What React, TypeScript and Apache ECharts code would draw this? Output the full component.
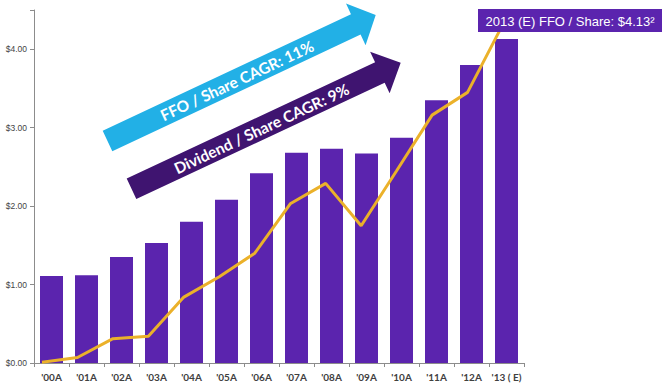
import React, { useEffect, useRef } from "react";
import * as echarts from "echarts";

const categories = ["'00A", "'01A", "'02A", "'03A", "'04A", "'05A", "'06A", "'07A", "'08A", "'09A", "'10A", "'11A", "'12A", "'13 ( E)"];
const ffoPerShare = [1.11, 1.12, 1.35, 1.53, 1.8, 2.08, 2.42, 2.68, 2.73, 2.67, 2.87, 3.35, 3.8, 4.13];
const dividendLine = [0.01, 0.07, 0.31, 0.34, 0.84, 1.1, 1.4, 2.03, 2.29, 1.75, 2.45, 3.16, 3.45, 4.32];
const yTicks = [0, 1, 2, 3, 4];
const ffoArrowText = "FFO / Share CAGR: 11%";
const divArrowText = "Dividend / Share CAGR: 9%";
const calloutText = "2013 (E) FFO / Share: $4.13²";

const BAR = "#5B24AE";
const LINE = "#EBB12A";
const BLUE = "#22B0E6";
const DARK = "#3F1470";

function arrowPoints(sx: number, sy: number, tx: number, ty: number, hw: number, hh: number, hl: number) {
  const dx = tx - sx, dy = ty - sy;
  const len = Math.hypot(dx, dy);
  const ux = dx / len, uy = dy / len;
  const nx = -uy, ny = ux;
  const bx = tx - ux * hl, by = ty - uy * hl;
  return [
    [sx + nx * hw, sy + ny * hw],
    [bx + nx * hw, by + ny * hw],
    [bx + nx * hh, by + ny * hh],
    [tx, ty],
    [bx - nx * hh, by - ny * hh],
    [bx - nx * hw, by - ny * hw],
    [sx - nx * hw, sy - ny * hw],
  ];
}

export default function App() {
  const ref = useRef<HTMLDivElement>(null);
  useEffect(() => {
    if (!ref.current) return;
    const chart = echarts.init(ref.current, undefined, { renderer: "svg" });
    const blue = { sx: 107.5, sy: 141, tx: 375.7, ty: 15 };
    const dark = { sx: 131.5, sy: 188.8, tx: 400.7, ty: 62.7 };
    const ang = (a: any) => Math.atan2(a.sy - a.ty, a.tx - a.sx);
    const textFont = "bold 15.5px Lato, 'Open Sans', sans-serif";
    chart.setOption({
      animation: false,
      grid: [
        { left: 34, right: 146, top: 10, bottom: 24 },
        { left: 42, right: 167, top: 10, bottom: 24 },
      ],
      xAxis: [
        {
          type: "category",
          gridIndex: 0,
          data: categories,
          boundaryGap: true,
          axisLine: { lineStyle: { color: "#8c8c8c", width: 1 } },
          axisTick: { show: true, length: 4, lineStyle: { color: "#8c8c8c" } },
          axisLabel: {
            interval: 0,
            margin: 9,
            fontSize: 10,
            fontWeight: "bold",
            fontFamily: "Lato, sans-serif",
            color: "#404040",
          },
        },
        {
          type: "category",
          gridIndex: 1,
          data: categories,
          boundaryGap: false,
          show: false,
        },
      ],
      yAxis: [
        {
          type: "value",
          gridIndex: 0,
          min: 0,
          max: 4.5,
          interval: 1,
          splitLine: { show: false },
          axisLine: { show: true, lineStyle: { color: "#8c8c8c", width: 1 } },
          axisTick: { show: true, length: 4, lineStyle: { color: "#8c8c8c" } },
          axisLabel: {
            margin: 7,
            fontSize: 8.5,
            fontFamily: "'Liberation Sans', Arial, sans-serif",
            color: "#444",
            formatter: (v: number) => (yTicks.includes(v) ? "$" + v.toFixed(2) : ""),
          },
        },
        {
          type: "value",
          gridIndex: 1,
          min: 0,
          max: 4.5,
          show: false,
          splitLine: { show: false },
        },
      ],
      series: [
        {
          type: "bar",
          xAxisIndex: 0,
          yAxisIndex: 0,
          data: ffoPerShare,
          barWidth: 23,
          itemStyle: { color: BAR },
        },
        {
          type: "line",
          xAxisIndex: 1,
          yAxisIndex: 1,
          data: dividendLine,
          showSymbol: false,
          symbol: "none",
          lineStyle: { color: LINE, width: 3 },
          z: 3,
        },
      ],
      graphic: [
        {
          type: "polygon",
          z: 100,
          shape: { points: arrowPoints(blue.sx, blue.sy, blue.tx, blue.ty, 11.3, 23, 22) },
          style: { fill: BLUE },
        },
        {
          type: "polygon",
          z: 100,
          shape: { points: arrowPoints(dark.sx, dark.sy, dark.tx, dark.ty, 11.3, 23, 23) },
          style: { fill: DARK },
        },
        {
          type: "text",
          z: 101,
          x: 237,
          y: 80.5,
          rotation: ang(blue),
          style: {
            text: ffoArrowText,
            fill: "#fff",
            font: textFont,
            textAlign: "center",
            textVerticalAlign: "middle",
          },
        },
        {
          type: "text",
          z: 101,
          x: 261.5,
          y: 128.5,
          rotation: ang(dark),
          style: {
            text: divArrowText,
            fill: "#fff",
            font: textFont,
            textAlign: "center",
            textVerticalAlign: "middle",
          },
        },
        {
          type: "rect",
          z: 100,
          shape: { x: 478, y: 9, width: 184, height: 23 },
          style: { fill: BAR },
        },
        {
          type: "text",
          z: 101,
          x: 570,
          y: 21,
          style: {
            text: calloutText,
            fill: "#fff",
            font: "13px 'Liberation Sans', Arial, sans-serif",
            textAlign: "center",
            textVerticalAlign: "middle",
          },
        },
      ],
    });
    return () => chart.dispose();
  }, []);
  return (
    <div
      ref={ref}
      style={{ position: "absolute", left: 0, top: 0, width: 670, height: 387, background: "#fff" }}
    />
  );
}
